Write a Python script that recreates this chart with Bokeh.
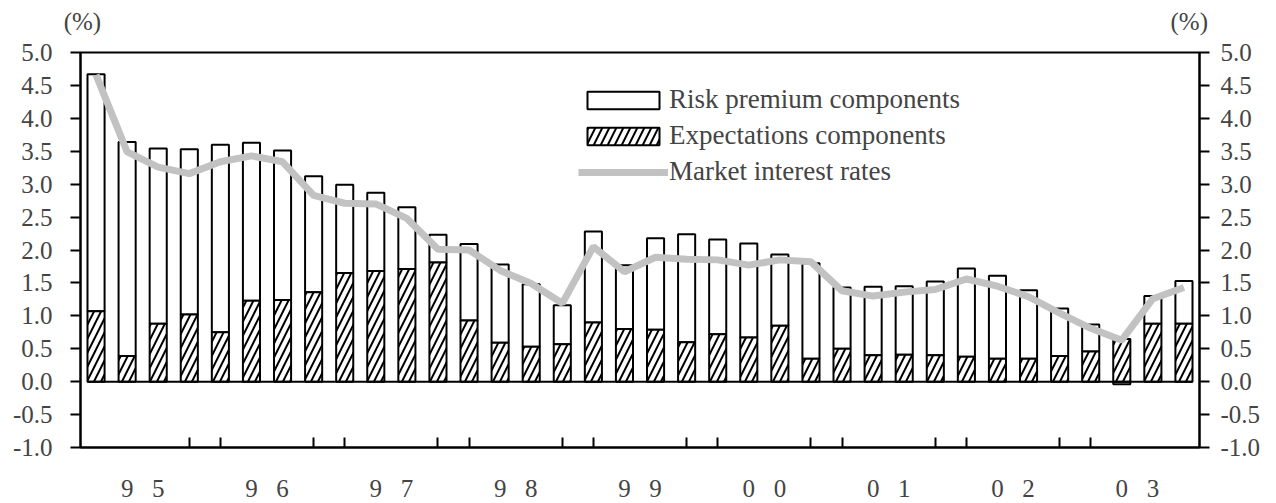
from bokeh.plotting import figure
from bokeh.models import (ColumnDataSource, Range1d, LinearAxis, FixedTicker,
                          NumeralTickFormatter, Legend, LegendItem)
from bokeh.embed import file_html
from bokeh.resources import INLINE

# ---------------- data ----------------
years = ["95", "96", "97", "98", "99", "00", "01", "02", "03"]
quarters = [f"{y}Q{q}" for y in years for q in (1, 2, 3, 4)]

risk_premium = [3.60, 3.25, 2.66, 2.51, 2.85, 2.40, 2.27, 1.76,
                1.34, 1.19, 0.94, 0.42, 1.16, 1.19, 0.95, 0.59,
                1.38, 0.97, 1.39, 1.64, 1.44, 1.43, 1.08, 1.45,
                0.93, 1.04, 1.04, 1.12, 1.34, 1.26, 1.04, 0.72,
                0.41, -0.04, 0.42, 0.65]
expectations = [1.07, 0.39, 0.88, 1.02, 0.75, 1.23, 1.24, 1.36,
                1.65, 1.68, 1.71, 1.81, 0.93, 0.59, 0.53, 0.57,
                0.90, 0.80, 0.79, 0.60, 0.72, 0.67, 0.85, 0.35,
                0.50, 0.40, 0.41, 0.40, 0.38, 0.35, 0.35, 0.39,
                0.46, 0.65, 0.88, 0.88]
market_rate = [4.66, 3.49, 3.26, 3.16, 3.34, 3.43, 3.34, 2.83,
               2.71, 2.70, 2.48, 2.01, 2.00, 1.69, 1.49, 1.19,
               2.05, 1.67, 1.89, 1.86, 1.85, 1.77, 1.85, 1.82,
               1.38, 1.30, 1.36, 1.40, 1.56, 1.45, 1.29, 1.04,
               0.81, 0.63, 1.26, 1.43]
y_ticks = [-1.0, -0.5, 0.0, 0.5, 1.0, 1.5, 2.0, 2.5, 3.0, 3.5, 4.0, 4.5, 5.0]
unit_label = "(%)"

# ---------------- derived ----------------
n = len(quarters)
idx = list(range(n))
risk_bottom = [e if r >= 0 else r for r, e in zip(risk_premium, expectations)]
risk_top = [e + r if r >= 0 else 0.0 for r, e in zip(risk_premium, expectations)]
src = ColumnDataSource(dict(x=idx, q=quarters, rb=risk_bottom, rt=risk_top,
                            eb=[0.0] * n, et=expectations, m=market_rate))

FONT = "Liberation Serif"
BAR_W = 0.55

p = figure(frame_width=1119, frame_height=395,
           x_range=Range1d(-0.5, n - 0.5), y_range=Range1d(y_ticks[0], y_ticks[-1]),
           output_backend="svg", toolbar_location=None,
           min_border_left=80, min_border_right=60, min_border_top=52,
           min_border_bottom=56)
p.xgrid.visible = False
p.ygrid.visible = False
p.outline_line_color = "black"
p.outline_line_width = 2
p.background_fill_color = "white"
p.border_fill_color = "white"

r_risk = p.vbar(x="x", bottom="rb", top="rt", width=BAR_W, source=src,
                fill_color="white", line_color="black", line_width=2)
r_exp = p.vbar(x="x", bottom="eb", top="et", width=BAR_W, source=src,
               fill_color="white", line_color="black", line_width=2,
               hatch_pattern="/", hatch_color="black", hatch_weight=2,
               hatch_scale=14)
p.segment(x0=[idx[0] - BAR_W / 2], y0=[0], x1=[idx[-1] + BAR_W / 2], y1=[0],
          line_color="black", line_width=2)
r_mkt = p.line(x="x", y="m", source=src, line_color="#c2c2c2", line_width=7)

# ---------------- axes ----------------
fmt = NumeralTickFormatter(format="0.0")
for ax in p.yaxis:
    ax.ticker = FixedTicker(ticks=y_ticks)
    ax.formatter = fmt
    ax.major_tick_out = 10
    ax.major_tick_in = 0
    ax.minor_tick_line_color = None
    ax.axis_line_width = 2
    ax.major_tick_line_width = 2
    ax.major_label_standoff = 18
    ax.major_label_text_font = FONT
    ax.major_label_text_font_size = "25px"

right = LinearAxis(ticker=FixedTicker(ticks=y_ticks), formatter=fmt,
                   major_tick_out=10, major_tick_in=0, minor_tick_line_color=None,
                   axis_line_width=2, major_tick_line_width=2,
                   major_label_standoff=11, major_label_text_font=FONT,
                   major_label_text_font_size="25px")
p.add_layout(right, "right")

# bottom axis: year digits as major labels, boundary tick pairs as minor ticks
tick_pos = []
for k in range(1, len(years)):
    tick_pos += [4 * k - 1, 4 * k]
lab_pos = []
overrides = {}
for k, y in enumerate(years):
    for j, ch in enumerate(y):
        pos = 4 * k + 1 + j
        lab_pos.append(pos)
        overrides[pos] = ch
for ax in p.xaxis:
    ax.ticker = FixedTicker(ticks=lab_pos, minor_ticks=tick_pos)
    ax.major_label_overrides = overrides
    ax.major_tick_line_color = None
    ax.major_tick_in = 0
    ax.major_tick_out = 0
    ax.minor_tick_in = 10
    ax.minor_tick_out = 0
    ax.minor_tick_line_color = "black"
    ax.minor_tick_line_width = 2
    ax.axis_line_width = 2
    ax.major_label_standoff = 32
    ax.major_label_text_font = FONT
    ax.major_label_text_font_size = "25px"

# unit labels "(%)" above both value axes
unit_pos = [-0.44, 35.17]
top_axis = LinearAxis(ticker=FixedTicker(ticks=unit_pos),
                      major_label_overrides={v: unit_label for v in unit_pos},
                      axis_line_color=None, major_tick_line_color=None,
                      minor_tick_line_color=None, major_tick_in=0, major_tick_out=0,
                      major_label_standoff=18, major_label_text_font=FONT,
                      major_label_text_font_size="25px")
p.add_layout(top_axis, "above")

# ---------------- legend ----------------
legend = Legend(items=[LegendItem(label="Risk premium components", renderers=[r_risk]),
                       LegendItem(label="Expectations components", renderers=[r_exp]),
                       LegendItem(label="Market interest rates", renderers=[r_mkt])],
                location=(498, 260), glyph_width=90, glyph_height=22,
                label_text_font=FONT, label_text_font_size="27px",
                label_standoff=1, spacing=5, padding=0, label_height=26,
                border_line_color=None, background_fill_alpha=0)
p.add_layout(legend)

open("out.html", "w").write(file_html(p, INLINE))
